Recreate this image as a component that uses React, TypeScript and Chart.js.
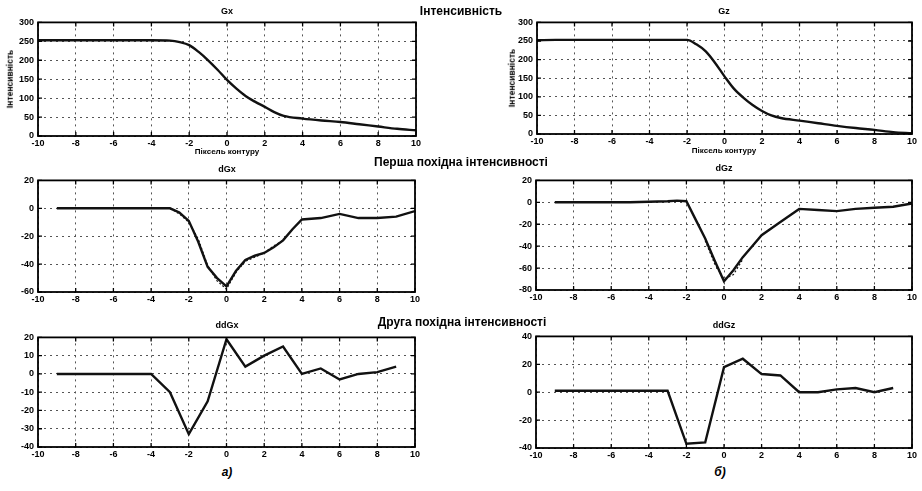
import React, { useEffect, useRef } from 'react';
import { Chart, registerables } from 'chart.js';
Chart.register(...registerables);

// ---------- data ----------
const xTicksLabel = [-10, -8, -6, -4, -2, 0, 2, 4, 6, 8, 10];

const gxX = [-10, -9, -8, -7, -6, -5, -4, -3, -2.5, -2, -1.5, -1, -0.5, 0, 0.5, 1, 1.5, 2, 2.5, 3, 4, 5, 6, 7, 8, 9, 10];
const gxY = [253, 253, 253, 253, 253, 253, 253, 252, 248, 240, 222, 200, 175, 148, 125, 105, 90, 77, 63, 53, 46, 41, 37, 31, 25, 19, 15];

const gzX = [-10, -9, -8, -7, -6, -5, -4, -3, -2, -1.5, -1, -0.5, 0, 0.5, 1, 1.5, 2, 2.5, 3, 4, 5, 6, 7, 8, 9, 10];
const gzY = [252, 253, 253, 253, 253, 253, 253, 253, 253, 241, 222, 191, 155, 122, 98, 78, 62, 50, 43, 36, 29, 22, 16, 11, 5, 2];

const dgxX = [-9, -8, -7, -6, -5, -4, -3, -2.5, -2, -1.5, -1, -0.5, 0, 0.5, 1, 1.5, 2, 2.5, 3, 3.5, 4, 5, 6, 7, 8, 9, 10];
const dgxY = [0, 0, 0, 0, 0, 0, 0, -3, -9, -24, -42, -50, -56, -45, -37, -34, -32, -28, -23, -15, -8, -7, -4, -7, -7, -6, -2];
const dgxFitX = [-3, -2.5, -2, -1.5, -1, -0.5, 0, 0.5, 1, 1.5, 2, 2.5, 3];
const dgxFitY = [0, -4, -10, -22, -41, -52, -58, -46, -38, -35, -32, -27, -23];

const dgzX = [-9, -8, -7, -6, -5, -4, -3, -2.5, -2, -1.5, -1, -0.5, 0, 0.5, 1, 1.5, 2, 3, 4, 5, 6, 7, 8, 9, 10];
const dgzY = [0, 0, 0, 0, 0, 0.5, 1, 1.5, 1, -16, -33, -53, -72, -62, -50, -40, -30, -18, -6, -7, -8, -6, -5, -4, -1];
const dgzFitX = [-1, -0.5, 0, 0.5, 1];
const dgzFitY = [-35, -56, -70, -66, -52];

const ddX = [-9, -8, -7, -6, -5, -4, -3, -2, -1, 0, 1, 2, 3, 4, 5, 6, 7, 8, 9];
const ddgxY = [0, 0, 0, 0, 0, 0, -10, -33, -15, 19, 4, 10, 15, 0, 3, -3, 0, 1, 4];
const ddgzY = [1, 1, 1, 1, 1, 1, 1, -37, -36, 18, 24, 13, 12, 0, 0, 2, 3, 0, 3];

// ---------- helpers ----------
const pts = (xs: number[], ys: number[]) => xs.map((x, i) => ({ x, y: ys[i] }));

const framePlugin = {
  id: 'frame',
  afterDraw(chart: any) {
    const { ctx, chartArea: a, scales } = chart;
    ctx.save();
    ctx.strokeStyle = '#000';
    ctx.lineWidth = 1.8;
    ctx.strokeRect(a.left, a.top, a.right - a.left, a.bottom - a.top);
    ctx.lineWidth = 1.3;
    ctx.beginPath();
    const xs = scales.x;
    const ys = scales.y;
    xs.ticks.forEach((t: any) => {
      const p = xs.getPixelForValue(t.value);
      ctx.moveTo(p, a.bottom);
      ctx.lineTo(p, a.bottom - 4);
      ctx.moveTo(p, a.top);
      ctx.lineTo(p, a.top + 4);
    });
    ys.ticks.forEach((t: any) => {
      const p = ys.getPixelForValue(t.value);
      ctx.moveTo(a.left, p);
      ctx.lineTo(a.left + 4, p);
      ctx.moveTo(a.right, p);
      ctx.lineTo(a.right - 4, p);
    });
    ctx.stroke();
    ctx.restore();
  },
};

type Series = { xs: number[]; ys: number[]; dashed?: boolean; smooth?: boolean };
type PlotCfg = { L: number; T: number; R: number; B: number; ymin: number; ymax: number; step: number; series: Series[] };

const AXW = 36;
const PADT = 8;
const AXH = 16;
const PADR = 12;

const tickFont = { family: 'Liberation Sans, Arial, sans-serif', size: 9, weight: 'bold' as const };

function Plot({ cfg }: { cfg: PlotCfg }) {
  const ref = useRef<HTMLCanvasElement>(null);
  const w = AXW + (cfg.R - cfg.L) + PADR;
  const h = PADT + (cfg.B - cfg.T) + AXH;
  useEffect(() => {
    if (!ref.current) return;
    const chart = new Chart(ref.current, {
      type: 'line',
      data: {
        datasets: cfg.series.map((s) => ({
          data: pts(s.xs, s.ys),
          borderColor: '#111',
          borderWidth: s.dashed ? 1.2 : 2.4,
          borderDash: s.dashed ? [2, 2] : [],
          pointRadius: 0,
          cubicInterpolationMode: s.smooth ? 'monotone' : 'default',
          tension: s.smooth ? 0.4 : 0,
          fill: false,
        })),
      },
      options: {
        animation: false,
        responsive: false,
        maintainAspectRatio: false,
        layout: { padding: { top: PADT, right: PADR, left: 0, bottom: 0 } },
        plugins: { legend: { display: false }, tooltip: { enabled: false } },
        scales: {
          x: {
            type: 'linear',
            min: -10,
            max: 10,
            afterBuildTicks: (s: any) => {
              s.ticks = xTicksLabel.map((v) => ({ value: v }));
            },
            afterFit: (s: any) => {
              s.height = AXH;
            },
            ticks: { color: '#000', font: tickFont, padding: 2, maxRotation: 0, autoSkip: false },
            grid: { color: '#555', lineWidth: 1, drawTicks: false },
            border: { display: false, dash: [2, 4] },
          },
          y: {
            type: 'linear',
            min: cfg.ymin,
            max: cfg.ymax,
            ticks: { stepSize: cfg.step, color: '#000', font: tickFont, padding: 4 },
            afterFit: (s: any) => {
              s.width = AXW;
            },
            grid: { color: '#555', lineWidth: 1, drawTicks: false },
            border: { display: false, dash: [2, 4] },
          },
        },
      },
      plugins: [framePlugin],
    } as any);
    return () => chart.destroy();
  }, [cfg]);
  return (
    <canvas
      ref={ref}
      width={w}
      height={h}
      style={{ position: 'absolute', left: cfg.L - AXW, top: cfg.T - PADT, width: w, height: h }}
    />
  );
}

const plots: PlotCfg[] = [
  { L: 38, T: 21, R: 416, B: 136, ymin: 0, ymax: 300, step: 50, series: [{ xs: gxX, ys: gxY, smooth: true }] },
  { L: 537, T: 21, R: 912, B: 134, ymin: 0, ymax: 300, step: 50, series: [{ xs: gzX, ys: gzY, smooth: true }] },
  {
    L: 38, T: 179, R: 415, B: 292, ymin: -60, ymax: 20, step: 20,
    series: [{ xs: dgxX, ys: dgxY }, { xs: dgxFitX, ys: dgxFitY, dashed: true }],
  },
  {
    L: 536, T: 179, R: 912, B: 290, ymin: -80, ymax: 20, step: 20,
    series: [{ xs: dgzX, ys: dgzY }, { xs: dgzFitX, ys: dgzFitY, dashed: true }],
  },
  { L: 38, T: 336, R: 415, B: 447, ymin: -40, ymax: 20, step: 10, series: [{ xs: ddX, ys: ddgxY }] },
  { L: 536, T: 335, R: 912, B: 448, ymin: -40, ymax: 40, step: 20, series: [{ xs: ddX, ys: ddgzY }] },
];

const F = 'Liberation Sans, Arial, sans-serif';

function Txt({ x, y, size, children, rotate, italic }: { x: number; y: number; size: number; children: React.ReactNode; rotate?: boolean; italic?: boolean }) {
  return (
    <div
      style={{
        position: 'absolute',
        left: x,
        top: y,
        transform: `translate(-50%, -50%)${rotate ? ' rotate(-90deg)' : ''}`,
        fontFamily: F,
        fontWeight: 'bold',
        fontStyle: italic ? 'italic' : 'normal',
        fontSize: size,
        color: '#000',
        whiteSpace: 'nowrap',
        lineHeight: 1,
      }}
    >
      {children}
    </div>
  );
}

export default function App() {
  return (
    <div style={{ position: 'absolute', left: 0, top: 0, width: 922, height: 491, background: '#fff', overflow: 'hidden' }}>
      {plots.map((p, i) => (
        <Plot key={i} cfg={p} />
      ))}
      <Txt x={461} y={11} size={12}>Інтенсивність</Txt>
      <Txt x={227} y={11} size={9}>Gx</Txt>
      <Txt x={724} y={11} size={9}>Gz</Txt>
      <Txt x={10} y={79} size={8.5} rotate>Інтенсивність</Txt>
      <Txt x={512} y={78} size={8.5} rotate>Інтенсивність</Txt>
      <Txt x={227} y={152} size={8}>Піксель контуру</Txt>
      <Txt x={724} y={151} size={8}>Піксель контуру</Txt>
      <Txt x={461} y={162} size={12}>Перша похідна інтенсивності</Txt>
      <Txt x={227} y={169} size={9}>dGx</Txt>
      <Txt x={724} y={168} size={9}>dGz</Txt>
      <Txt x={462} y={322} size={12}>Друга похідна інтенсивності</Txt>
      <Txt x={227} y={325} size={9}>ddGx</Txt>
      <Txt x={724} y={325} size={9}>ddGz</Txt>
      <Txt x={227} y={472} size={12} italic>а)</Txt>
      <Txt x={720} y={472} size={12} italic>б)</Txt>
    </div>
  );
}
